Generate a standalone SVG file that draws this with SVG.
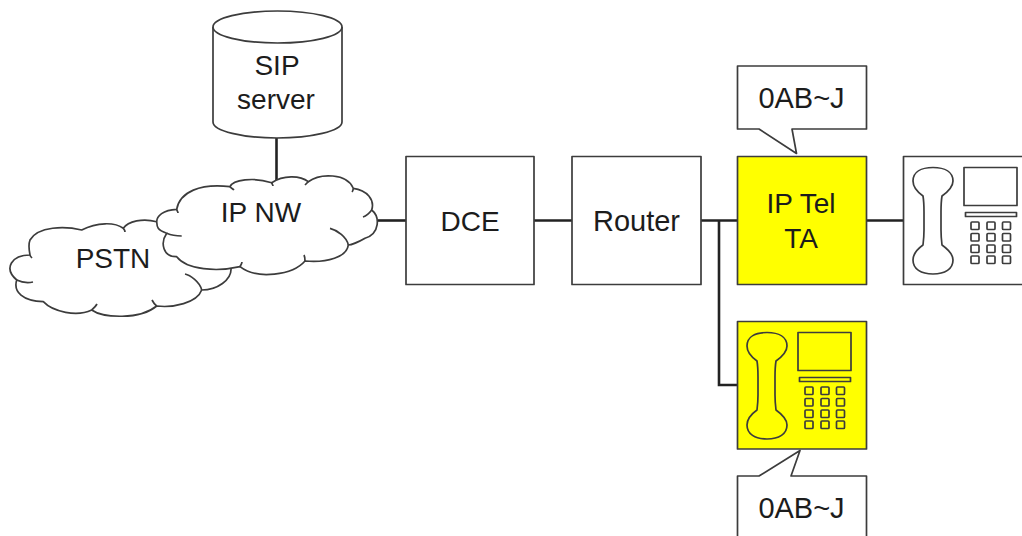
<svg xmlns="http://www.w3.org/2000/svg" width="1022" height="536" viewBox="0 0 1022 536">
<style>
.s{stroke:#3c3c3c;stroke-width:1.7;fill:#fff;stroke-linejoin:round}
.y{fill:#ffff00}
.n{fill:none}
.c{stroke:#222;stroke-width:2.6;fill:none}
text{font-family:"Liberation Sans",Arial,sans-serif;font-size:28px;fill:#1c1c1c;text-anchor:middle}
.w{font-size:29px}
</style>
<defs>
<g id="phone">
<path class="s n" d="M923 196C916 191 913 186 913 181C913 172 921 167.500 933 167.500C945 167.500 953 172 953 181C953 186 949 191 942 196C941.500 199 941 204 941 212V230C941 237 941.500 241 942 245C949 250 953 255 953 260C953 269 945 274 933 274C921 274 913 269 913 260C913 255 916 250 923 245C923.500 241 924 237 924 230V212C924 204 923.500 199 923 196Z"/>
<rect class="s n" x="964" y="167.500" width="53" height="38"/>
<rect class="s n" x="965.500" y="212.500" width="51" height="4"/>
<g class="s n">
<rect x="971" y="222" width="8" height="7.500" rx="1"/><rect x="987" y="222" width="8" height="7.500" rx="1"/><rect x="1002.500" y="222" width="8" height="7.500" rx="1"/>
<rect x="971" y="233.500" width="8" height="7.500" rx="1"/><rect x="987" y="233.500" width="8" height="7.500" rx="1"/><rect x="1002.500" y="233.500" width="8" height="7.500" rx="1"/>
<rect x="971" y="245" width="8" height="7.500" rx="1"/><rect x="987" y="245" width="8" height="7.500" rx="1"/><rect x="1002.500" y="245" width="8" height="7.500" rx="1"/>
<rect x="971" y="256" width="8" height="7.500" rx="1"/><rect x="987" y="256" width="8" height="7.500" rx="1"/><rect x="1002.500" y="256" width="8" height="7.500" rx="1"/>
</g>
</g>
</defs>
<g id="connectors">
<path class="c" d="M276.500 138V182"/>
<path class="c" d="M378 220.500H406"/>
<path class="c" d="M534 220.500H572"/>
<path class="c" d="M700 220.500H737"/>
<path class="c" d="M719 220.500V385H737"/>
<path class="c" d="M867 220.500H903"/>
</g>
<g id="pstn">
<path class="s" d="M156.700 221.700C143 218 128 221 123.300 228.300C115 222 97 222 81.700 230C65 226 38 226 30 240C28 245 29 250 30 255C12 255 3 268 16.700 280C13 292 23 301 43.300 301.700C53 312 77 317 91.700 310C103 318 140 320 156.700 306C173 308 197 303 201.700 290C217 290 232 280 231 268L231 262Z"/>
<path class="s n" d="M16.700 280C23 283 28 283 33 282M201.700 290C200 282 190 275 185 274M30 255C30 256 31 257 32 258M123.300 228.300C124 229 125 231 125 232M91.700 310C94 308 96 306 97 304M156.700 306C154 304 153 302 152 300"/>
<text x="113" y="268">PSTN</text>
</g>
<g id="ipnw">
<path class="s" d="M156.700 221.700C156.700 216 163 210 176.700 209.300C180 191.700 200 183.300 230 186.700C233 180 253 176.700 271.700 182.700C283 175 300 175 308.300 181.700C320 173 347 173 353.300 188.300C367 190 375 200 371.700 210C380 216.700 380 233.300 365 238.300C357 243 350 245 348.300 245C347 257 327 263 305 261C293 275 257 280 240 266.700C217 272 187 270 176.700 256.700C163 257 160 243 166.700 233.300C157 230 157 227 156.700 221.700Z"/>
<path class="s n" d="M166.700 233.300C173 236 178 236 181.700 236M371.700 210C368 215 366 216 363 217M348.300 245C347 237 337 230 330 228.300M176.700 209.300C177 211 178 212 178 213M230 186.700C231 188 233 189 234 190M271.700 182.700C272 184 273 185 273 186M308.300 181.700C307 183 306 184 305 185M353.300 188.300C353 190 353 191 352 192M305 261C305 259 305 257 304 255M240 266.700C241 265 242 263 242 262"/>
<text x="261" y="222">IP NW</text>
</g>
<g id="sip-server">
<path class="s" d="M213 27V122C213 131 243 138 277 138C311 138 342 131 342 122V27"/>
<ellipse class="s" cx="277.500" cy="27" rx="64.500" ry="16"/>
<text x="277" y="75">SIP</text>
<text x="276" y="109">server</text>
</g>
<g id="dce">
<rect class="s" x="406" y="156.500" width="128" height="128"/>
<text x="470" y="231">DCE</text>
</g>
<g id="router">
<rect class="s" x="572" y="156.500" width="129" height="128"/>
<text class="w" x="636.500" y="231">Router</text>
</g>
<g id="ip-tel-ta">
<rect class="s y" x="737.500" y="156.500" width="129" height="128"/>
<text x="801" y="213">IP Tel</text>
<text x="801" y="248">TA</text>
</g>
<g id="phone-white">
<rect class="s" x="903.500" y="156.500" width="130" height="128"/>
<use href="#phone"/>
</g>
<g id="phone-yellow">
<rect class="s y" x="737.500" y="321.500" width="129" height="127.500"/>
<use href="#phone" transform="translate(-166 165)"/>
</g>
<g id="callout-top">
<path class="s" d="M737.500 66H866.500V129H792L796.500 153.500L759 129H737.500Z"/>
<text class="w" x="801.500" y="108">0AB~J</text>
</g>
<g id="callout-bottom">
<path class="s" d="M737.500 540V476H759L800 450.500L791 476H866.500V540"/>
<text class="w" x="801.500" y="518">0AB~J</text>
</g>
</svg>
